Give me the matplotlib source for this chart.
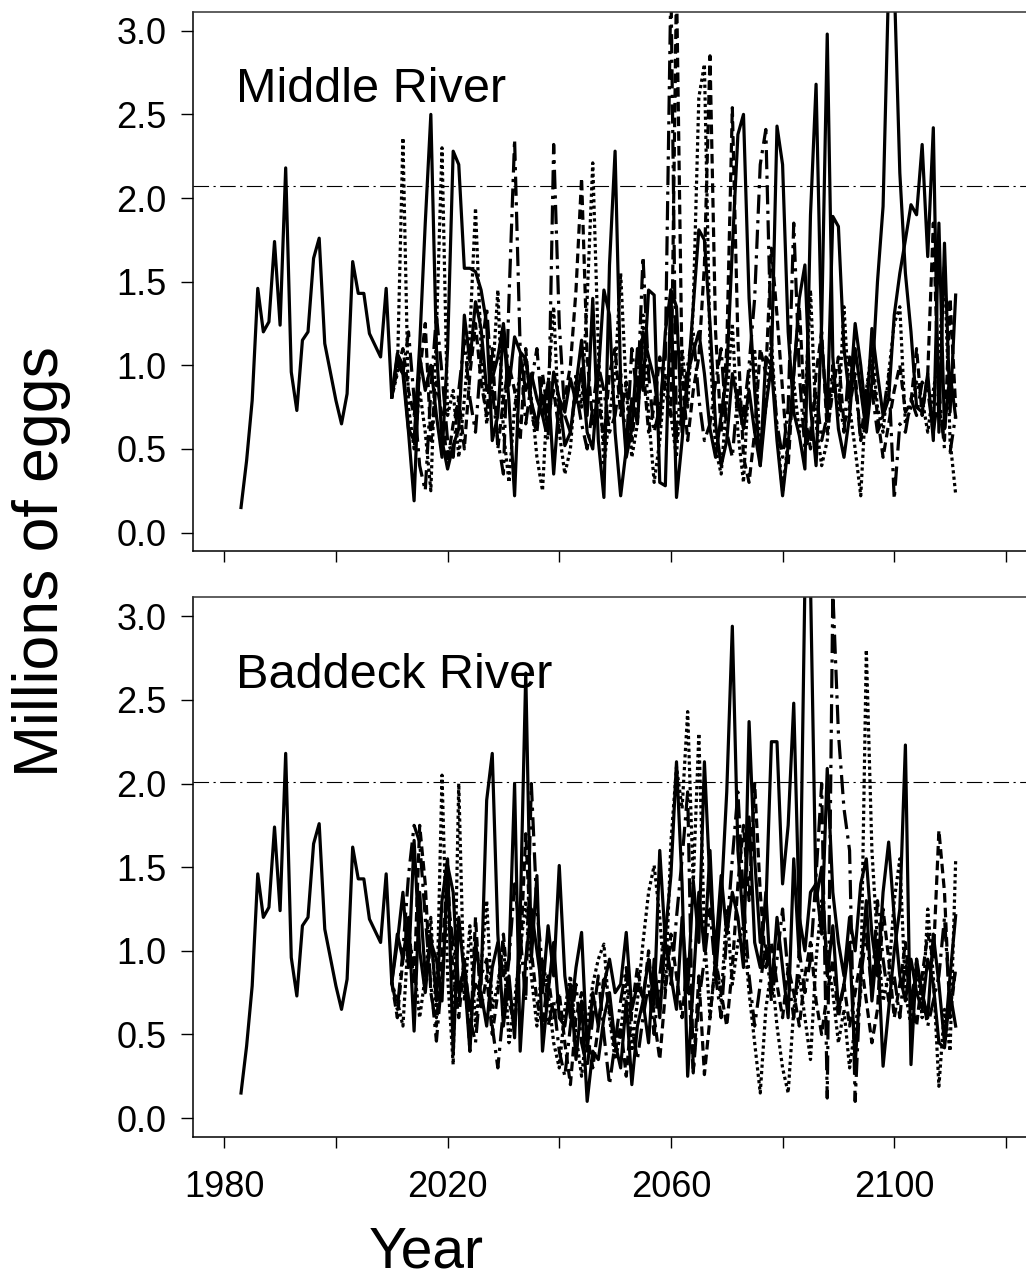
"""
Projected egg deposition for Middle River and Baddeck River.

Observed series (1983-2010) followed by several projected runs
out to 2111, with the conservation requirement drawn as a
dash-dot reference line in each panel.
"""

import matplotlib
matplotlib.use("Agg")
import matplotlib.pyplot as plt
import numpy as np

plt.rcParams['font.family'] = ['Liberation Sans', 'DejaVu Sans']


# Observed egg deposition (millions), same for both rivers
HIST_YEARS = list(range(1983, 2011))
HIST_EGGS = [0.15, 0.43, 0.79, 1.46, 1.20, 1.26, 1.74, 1.24, 2.18, 0.96,
             0.73, 1.15, 1.20, 1.64, 1.76, 1.13, 0.96, 0.79, 0.65, 0.83,
             1.62, 1.43, 1.43, 1.19, 1.12, 1.05, 1.46, 0.81]

PROJ_YEARS = list(range(2010, 2112))

# Middle River projections
MIDDLE_RUN_1 = [0.81, 1.07, 1.00, 0.62, 0.55, 1.12, 1.85, 2.50, 1.10, 0.55,
                0.38, 0.52, 0.62, 1.30, 1.02, 1.38, 1.22, 0.85, 0.92, 1.05,
                1.25, 0.88, 1.17, 1.08, 1.04, 0.78, 0.65, 0.82, 0.62, 0.96,
                0.80, 0.52, 0.60, 0.88, 1.15, 0.70, 1.40, 0.55, 0.21, 1.60,
                2.28, 0.90, 0.45, 0.62, 1.10, 0.85, 1.45, 1.42, 0.30, 0.28,
                1.45, 0.21, 0.55, 0.95, 1.08, 1.20, 0.95, 0.62, 0.45, 0.70,
                0.95, 1.70, 2.38, 2.50, 1.40, 0.85, 0.40, 0.75, 1.00, 0.55,
                0.22, 0.52, 0.95, 1.40, 1.60, 0.75, 0.40, 1.25, 2.98, 1.05,
                0.62, 0.45, 0.70, 1.10, 0.85, 0.60, 0.90, 1.50, 1.95, 3.30,
                3.30, 2.15, 1.55, 1.20, 0.75, 0.72, 0.95, 0.55, 1.85, 0.62,
                0.95, 0.69]
MIDDLE_RUN_2 = [0.81, 1.05, 0.95, 0.60, 0.19, 1.05, 0.85, 1.00, 0.70, 0.45,
                1.10, 2.28, 2.20, 1.58, 1.58, 1.56, 1.45, 1.25, 0.55, 0.70,
                1.22, 0.78, 0.22, 1.05, 0.85, 0.95, 0.80, 0.70, 0.90, 0.35,
                0.80, 0.72, 0.92, 0.78, 0.98, 0.60, 0.50, 0.95, 1.45, 1.30,
                0.60, 0.22, 0.50, 0.80, 0.65, 1.20, 1.05, 0.92, 0.65, 1.20,
                1.45, 1.35, 0.60, 0.90, 1.35, 1.81, 1.75, 1.25, 0.65, 0.40,
                0.55, 0.95, 0.78, 0.62, 0.85, 0.60, 0.40, 1.05, 1.00, 2.43,
                2.20, 1.20, 0.72, 0.58, 0.38, 1.90, 2.68, 1.15, 0.70, 1.89,
                1.83, 1.10, 0.80, 1.25, 1.00, 0.68, 1.22, 0.95, 0.70, 0.80,
                1.30, 1.55, 1.75, 1.96, 1.90, 2.32, 1.65, 2.42, 0.60, 1.73,
                0.72, 1.42]
MIDDLE_RUN_3 = [0.81, 0.95, 2.36, 0.75, 0.50, 0.85, 0.60, 0.25, 1.20, 2.30,
                0.70, 0.85, 0.45, 0.80, 1.20, 1.94, 1.10, 0.65, 0.90, 1.45,
                0.60, 0.30, 0.75, 0.95, 1.05, 0.80, 0.45, 0.25, 0.88, 1.35,
                0.60, 0.35, 0.50, 0.95, 0.75, 1.40, 2.21, 1.10, 0.40, 0.70,
                0.95, 1.55, 0.85, 0.45, 0.65, 1.30, 0.70, 0.30, 0.55, 0.95,
                0.70, 0.45, 1.10, 0.75, 1.35, 2.60, 2.80, 1.10, 0.50, 0.35,
                0.80, 1.25, 0.60, 0.30, 0.95, 1.10, 0.50, 0.75, 1.15, 0.60,
                0.25, 0.55, 0.90, 0.60, 0.75, 1.45, 0.65, 0.40, 0.55, 0.95,
                0.70, 1.35, 0.75, 0.50, 0.22, 0.85, 1.10, 0.75, 0.60, 0.95,
                1.25, 1.35, 0.65, 0.75, 0.90, 0.80, 0.60, 0.85, 1.05, 1.60,
                0.55, 0.23]
MIDDLE_RUN_4 = [0.81, 1.00, 0.95, 1.20, 0.80, 0.40, 0.25, 0.85, 1.30, 0.95,
                0.55, 0.45, 0.85, 1.15, 0.80, 0.60, 1.05, 1.35, 0.85, 0.55,
                0.35, 1.40, 2.35, 1.10, 0.65, 0.90, 1.10, 0.70, 0.55, 2.32,
                1.25, 0.70, 0.60, 0.85, 0.65, 0.50, 0.75, 1.00, 0.85, 0.60,
                0.70, 0.95, 0.50, 1.10, 0.80, 1.65, 0.95, 0.60, 0.75, 1.05,
                3.30, 0.55, 0.70, 1.00, 1.20, 0.80, 0.55, 0.65, 0.90, 1.10,
                0.60, 0.45, 0.85, 0.70, 1.00, 1.40, 2.20, 2.41, 1.05, 0.65,
                0.45, 0.75, 1.85, 0.95, 0.50, 0.60, 0.85, 0.55, 0.70, 1.00,
                0.85, 0.60, 1.05, 0.90, 0.55, 0.70, 0.85, 0.60, 0.70, 0.95,
                0.20, 0.65, 0.60, 0.80, 0.70, 0.90, 0.85, 0.60, 0.85, 0.50,
                0.48, 0.70]
MIDDLE_RUN_5 = [0.81, 0.98, 1.10, 0.85, 0.70, 0.95, 1.25, 0.55, 0.90, 0.70,
                0.42, 0.65, 0.80, 0.50, 0.95, 1.25, 0.90, 0.70, 1.10, 0.50,
                0.80, 1.00, 0.85, 0.55, 1.10, 0.70, 0.60, 0.95, 0.70, 0.85,
                0.60, 0.80, 1.00, 1.45, 2.12, 1.05, 0.65, 0.80, 0.55, 0.95,
                1.10, 0.70, 0.90, 0.55, 0.85, 1.00, 0.60, 0.75, 1.05, 0.85,
                0.70, 3.30, 0.95, 0.55, 0.85, 1.05, 1.60, 2.85, 1.20, 0.60,
                1.10, 2.54, 1.15, 0.45, 0.30, 0.60, 1.10, 0.95, 1.70, 1.30,
                0.85, 0.40, 0.95, 1.35, 0.70, 0.50, 0.95, 1.20, 0.60, 0.85,
                1.05, 0.65, 0.75, 0.95, 0.55, 0.85, 1.00, 0.70, 0.45, 0.65,
                0.85, 1.00, 0.72, 0.78, 1.10, 0.70, 0.95, 1.85, 0.75, 0.55,
                1.40, 0.75]

# Baddeck River projections
BADDECK_RUN_1 = [0.81, 1.05, 1.35, 0.90, 1.66, 1.00, 0.75, 1.10, 0.70, 1.30,
                 1.55, 0.38, 1.20, 0.85, 0.40, 1.05, 0.80, 1.90, 2.18, 1.10,
                 0.55, 0.85, 0.48, 1.20, 2.66, 0.95, 1.45, 0.40, 0.75, 1.05,
                 0.60, 0.55, 0.80, 0.35, 0.70, 0.10, 0.40, 0.35, 0.60, 0.75,
                 0.45, 0.30, 0.70, 0.20, 0.55, 0.70, 0.45, 0.95, 0.60, 1.10,
                 1.45, 2.13, 1.40, 0.25, 0.80, 1.35, 1.00, 1.60, 0.85, 1.30,
                 1.95, 2.94, 1.60, 1.15, 1.80, 1.05, 0.90, 1.35, 0.75, 1.20,
                 0.90, 0.60, 1.55, 0.95, 3.20, 3.20, 1.30, 1.50, 0.85, 1.15,
                 0.65, 0.80, 1.05, 0.32, 0.85, 1.30, 0.70, 1.05, 0.31, 0.65,
                 1.00, 1.25, 2.23, 0.32, 0.95, 0.75, 0.60, 1.10, 0.80, 0.45,
                 0.85, 1.21]
BADDECK_RUN_2 = [0.81, 1.10, 0.95, 1.20, 0.52, 1.35, 0.85, 1.05, 0.95, 0.70,
                 1.51, 1.35, 0.75, 0.90, 0.65, 0.80, 0.75, 0.55, 0.90, 1.05,
                 0.85, 0.95, 2.00, 0.40, 0.95, 1.25, 1.00, 0.75, 1.15, 0.85,
                 1.51, 0.85, 0.60, 0.90, 1.11, 0.40, 0.75, 0.55, 0.80, 0.95,
                 0.75, 0.80, 1.11, 0.65, 0.80, 0.72, 0.95, 0.68, 1.60, 1.05,
                 0.85, 0.65, 1.20, 0.75, 1.42, 1.05, 2.13, 1.40, 1.00, 1.45,
                 1.10, 1.35, 1.20, 0.90, 2.37, 1.55, 1.05, 1.25, 2.25, 2.25,
                 1.40, 1.75, 2.48, 1.20, 1.00, 1.35, 1.40, 1.10, 2.09, 1.35,
                 1.05, 0.85, 1.20, 1.00, 1.40, 1.55, 1.10, 0.85, 1.35, 1.65,
                 1.20, 0.85, 0.70, 0.95, 0.75, 0.65, 0.95, 0.80, 0.45, 0.42,
                 0.75, 0.55]
BADDECK_RUN_3 = [0.81, 0.70, 0.55, 1.10, 0.90, 0.60, 0.85, 1.20, 0.60, 2.05,
                 0.85, 0.32, 2.00, 0.70, 1.15, 0.55, 0.90, 1.30, 0.65, 0.80,
                 1.05, 0.45, 0.70, 1.00, 1.30, 0.85, 0.55, 0.95, 0.75, 0.45,
                 0.30, 0.65, 0.85, 0.50, 0.25, 0.55, 0.80, 0.95, 1.04, 0.60,
                 0.35, 0.50, 0.85, 0.40, 0.70, 1.05, 1.35, 1.51, 1.20, 0.75,
                 1.65, 2.10, 1.85, 2.43, 1.40, 2.30, 1.10, 0.60, 0.95, 0.70,
                 1.25, 0.80, 1.05, 1.15, 0.75, 0.45, 0.15, 0.65, 0.90, 0.55,
                 0.30, 0.15, 0.65, 0.85, 0.60, 0.35, 0.95, 1.30, 0.95, 0.75,
                 0.45, 0.65, 0.30, 0.55, 0.75, 2.80, 1.60, 1.05, 0.70, 0.85,
                 1.30, 1.55, 0.75, 0.55, 0.95, 0.60, 1.25, 0.85, 0.19, 0.65,
                 0.40, 1.54]
BADDECK_RUN_4 = [0.81, 0.65, 1.00, 1.45, 1.75, 1.65, 1.20, 0.80, 0.46, 0.85,
                 1.30, 1.05, 0.70, 0.95, 0.60, 0.45, 0.85, 0.95, 0.55, 0.30,
                 0.65, 0.95, 1.40, 1.10, 0.70, 2.00, 1.25, 0.90, 0.55, 0.70,
                 0.40, 0.25, 0.55, 0.80, 0.45, 0.30, 0.60, 0.85, 0.50, 0.20,
                 0.45, 0.70, 0.90, 0.55, 0.35, 0.60, 0.80, 0.50, 0.85, 1.15,
                 0.80, 1.20, 1.55, 1.95, 0.27, 0.70, 0.95, 1.25, 0.85, 0.60,
                 1.10, 1.55, 1.95, 1.30, 0.85, 0.55, 0.80, 1.05, 0.70, 0.95,
                 1.25, 0.85, 0.60, 1.00, 0.75, 0.95, 1.45, 2.00, 0.12, 3.15,
                 2.30, 1.85, 1.60, 0.10, 0.85, 1.10, 0.75, 1.30, 0.95, 0.70,
                 0.85, 0.60, 0.95, 0.70, 0.90, 0.75, 0.55, 0.70, 0.85, 1.20,
                 0.65, 0.90]
BADDECK_RUN_5 = [0.81, 0.60, 0.95, 1.15, 0.80, 1.75, 1.40, 0.75, 0.55, 1.00,
                 1.45, 0.85, 0.60, 0.95, 0.40, 1.20, 0.65, 0.85, 0.50, 0.75,
                 1.10, 0.70, 0.55, 0.95, 1.70, 1.00, 0.70, 0.55, 0.85, 0.60,
                 0.75, 0.45, 0.20, 0.60, 0.75, 0.50, 0.30, 0.55, 0.85, 0.65,
                 0.40, 0.55, 0.25, 0.65, 0.90, 0.70, 1.00, 0.60, 0.35, 0.75,
                 1.10, 0.85, 0.60, 0.95, 0.27, 0.85, 0.26, 0.60, 0.95, 0.75,
                 0.55, 0.90, 1.40, 1.75, 1.30, 2.00, 1.35, 0.90, 1.05, 0.80,
                 0.60, 0.90, 0.75, 0.55, 0.85, 1.05, 0.70, 0.50, 0.75, 0.95,
                 0.60, 0.80, 0.55, 0.75, 0.95, 0.70, 0.45, 0.65, 1.25, 0.95,
                 0.60, 0.80, 1.05, 0.70, 0.55, 0.85, 1.10, 0.95, 1.72, 1.35,
                 0.60, 0.90]

# Conservation requirement (millions of eggs)
MIDDLE_REQUIREMENT = 2.07
BADDECK_REQUIREMENT = 2.01

RIVER_NAMES = ["Middle River", "Baddeck River"]
X_TICKS = [1980, 2000, 2020, 2040, 2060, 2080, 2100, 2120]
X_TICK_LABELS = ["1980", "", "2020", "", "2060", "", "2100", ""]
Y_TICKS = [0.0, 0.5, 1.0, 1.5, 2.0, 2.5, 3.0]

# one line style per projected run
RUN_STYLES = ["-", "-", (0, (1, 1)), (0, (6, 2, 1, 2)), (0, (3, 1.6))]

W, H = 1026, 1281


def draw_panel(ax, name, runs, requirement, show_labels):
    """Observed series, projected runs and requirement line for one river"""
    lw = 2.3
    for run, style in zip(runs, RUN_STYLES):
        ax.plot(PROJ_YEARS, run, color="black", lw=lw, linestyle=style)
    ax.plot(HIST_YEARS, HIST_EGGS, color="black", lw=lw)

    ax.axhline(requirement, color="black", lw=0.8, dashes=(14, 4, 2, 4))

    ax.set_xlim(1974.4, 2123.6)
    ax.set_ylim(-0.11, 3.115)

    ax.set_yticks(Y_TICKS)
    ax.set_yticklabels(["%.1f" % v for v in Y_TICKS], fontsize=26)
    ax.set_xticks(X_TICKS)
    if show_labels:
        ax.set_xticklabels(X_TICK_LABELS, fontsize=26)
    else:
        ax.set_xticklabels([])

    ax.tick_params(axis="y", direction="out", length=9, width=1, pad=10)
    ax.tick_params(axis="x", direction="out", length=8, width=1, pad=16)

    ax.spines["right"].set_visible(False)
    for side in ("left", "bottom", "top"):
        ax.spines[side].set_linewidth(1.1)
    ax.spines["top"].set_color("#333333")

    ax.text(0.052, 0.832, name, transform=ax.transAxes, fontsize=35,
            ha="left", va="baseline")


def main():
    fig = plt.figure(figsize=(W / 100, H / 100), dpi=100)

    left = 193 / W
    width = 1 - left
    height = 539.5 / H
    ax_top = fig.add_axes([left, 1 - 551 / H, width, height])
    ax_bot = fig.add_axes([left, 1 - 1136.5 / H, width, height])

    draw_panel(ax_top, RIVER_NAMES[0],
               [MIDDLE_RUN_1, MIDDLE_RUN_2, MIDDLE_RUN_3, MIDDLE_RUN_4, MIDDLE_RUN_5],
               MIDDLE_REQUIREMENT, False)
    draw_panel(ax_bot, RIVER_NAMES[1],
               [BADDECK_RUN_1, BADDECK_RUN_2, BADDECK_RUN_3, BADDECK_RUN_4, BADDECK_RUN_5],
               BADDECK_REQUIREMENT, True)

    # shared axis titles
    fig.text(42 / W, 1 - 562 / H, "Millions of eggs", rotation=90,
             fontsize=45, ha="center", va="center")
    fig.text(426 / W, 1 - 1279 / H, "Year", fontsize=41,
             ha="center", va="bottom")

    fig.savefig("out.png", dpi=100)
    plt.close(fig)


if __name__ == "__main__":
    main()
